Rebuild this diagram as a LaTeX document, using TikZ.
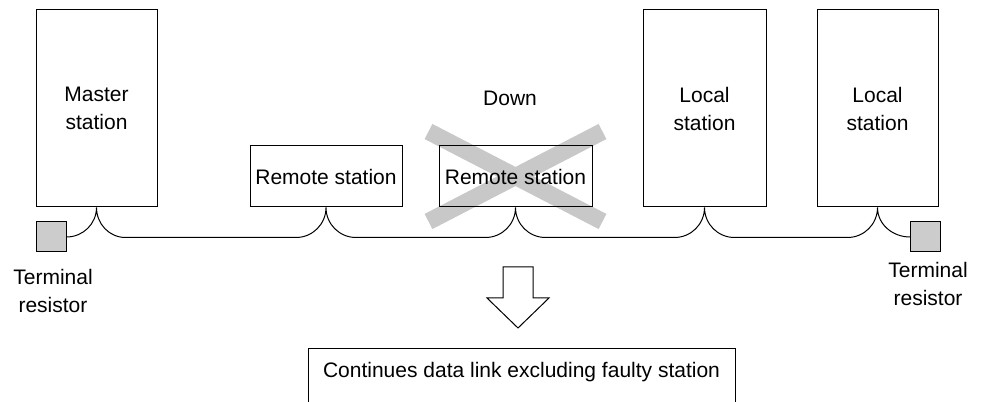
\documentclass[tikz,border=0pt]{standalone}
\usepackage{fontspec}
\setmainfont{Liberation Sans}
\definecolor{crossgray}{HTML}{C8C8C8}
\usetikzlibrary{calc, backgrounds}

\begin{document}
\begin{tikzpicture}[x=1pt, y=1pt, line width=1pt,
    font=\fontsize{21}{28}\selectfont,
    station/.style={draw, align=center, inner sep=0pt},
    resistor/.style={draw, fill=black!20, minimum size=30pt, inner sep=0pt}]
  \useasboundingbox (0,0) rectangle (981,401);
  \clip (0,0) rectangle (981,401);

  % stations
  \node[station, minimum width=121pt, minimum height=197pt] (master) at (96.5,292.5) {Master\\station};
  \node[station, minimum width=152pt, minimum height=61pt] (rem1) at (326,224.5) {Remote station};
  \node[station, minimum width=153pt, minimum height=61pt] (rem2) at (515.5,224.5) {Remote station};
  \node[station, minimum width=123pt, minimum height=197pt] (loc1) at (704.5,292.5) {Local\\station};
  \node[station, minimum width=121pt, minimum height=197pt] (loc2) at (877.5,292.5) {Local\\station};
  \node (down) at (510,303) {Down};

  % terminal resistors
  \node[resistor] (resL) at (51,164) {};
  \node[resistor] (resR) at (925.5,164) {};
  \node[align=center] (resLtxt) at (53,110) {Terminal\\resistor};
  \node[align=center] (resRtxt) at (928,117.5) {Terminal\\resistor};

  % faulty station
  \begin{scope}[on background layer]
    \draw[crossgray, line width=17pt] ($(rem2.center)+(-87,45)$) -- ($(rem2.center)+(87,-45)$);
    \draw[crossgray, line width=17pt] ($(rem2.center)+(87,45)$) -- ($(rem2.center)+(-87,-45)$);
  \end{scope}

  % bus
  \draw (resL.east) to[out=0,in=-90] (master.south) to[out=-90,in=180] ++(29,-30)
    -- ($(rem1.south)+(-30,-30)$) to[out=0,in=-90] (rem1.south) to[out=-90,in=180] ++(30,-30)
    -- ($(rem2.south)+(-30,-30)$) to[out=0,in=-90] (rem2.south) to[out=-90,in=180] ++(30,-30)
    -- ($(loc1.south)+(-30,-30)$) to[out=0,in=-90] (loc1.south) to[out=-90,in=180] ++(30,-30)
    -- ($(loc2.south)+(-30,-30)$) to[out=0,in=-90] (loc2.south) to[out=-90,in=180] (resR.west);

  % result
  \coordinate (arrow) at (518,134);
  \draw (arrow) ++(-15,0) -- ++(0,-31) -- ++(-16,0) -- ++(31,-30) -- ++(31,30)
    -- ++(-16,0) -- ++(0,31) -- cycle;
  \node[draw, anchor=north, minimum width=427pt, text height=29pt, text depth=34pt,
        inner sep=0pt] (result) at (521.5,53) {Continues data link excluding faulty station};
\end{tikzpicture}
\end{document}
